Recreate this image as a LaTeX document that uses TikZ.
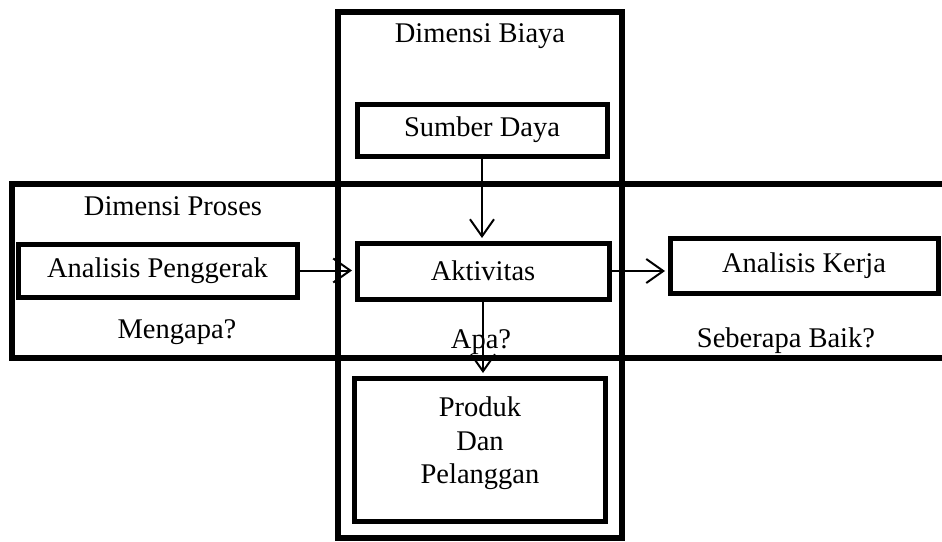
\documentclass[tikz,border=0pt]{standalone}
\usepackage{fontspec}
\setmainfont{Liberation Serif}
\usetikzlibrary{arrows.meta}
\newcommand\dfont{\fontsize{28.5}{33.5}\selectfont}
\begin{document}
\begin{tikzpicture}[x=1pt,y=-1pt,
  frame/.style={line width=6pt},
  boxnode/.style={draw, line width=5pt, inner sep=0pt, font=\dfont},
  conn/.style={line width=2pt, shorten >=2.5pt, -{Straight Barb[length=17pt,width=24pt,line width=2pt]}},
  lbl/.style={inner sep=0pt, anchor=base, font=\dfont}]
\useasboundingbox (0,0) rectangle (942,541);
% dimension frames
\draw[frame] (338,12) rectangle (622,538);
\draw[frame] (952,184) -- (12,184) -- (12,358) -- (952,358);
% boxes
\node[boxnode, minimum width=250, minimum height=52] (sumber) at (482,130) {Sumber Daya};
\node[boxnode, minimum width=252, minimum height=56] (akt) at (483,271) {Aktivitas};
\node[boxnode, minimum width=279, minimum height=53] (peng) at (157.5,270.5) {Analisis Penggerak};
\node[boxnode, minimum width=268, minimum height=55] (kerja) at (804,265.5) {Analisis Kerja};
\node[boxnode, minimum width=251, minimum height=143] (prod) at (479.5,449.5) {};
\node[inner sep=0pt, anchor=north, align=center, font=\dfont] (prodtext) at (480,397) {Produk\\Dan\\Pelanggan};
% labels
\node[lbl] (tbiaya) at (480,42) {Dimensi Biaya};
\node[lbl] (tproses) at (173,215) {Dimensi Proses};
\node[lbl] (tmengapa) at (177,338) {Mengapa?};
\node[lbl] (tapa) at (481,348) {Apa?};
\node[lbl] (tbaik) at (786,347) {Seberapa Baik?};
% connectors
\draw[conn] (sumber.south) -- (sumber.south |- akt.north);
\draw[conn] (akt.south) -- (akt.south |- prod.north);
\draw[conn] (peng.east) -- (peng.east -| akt.west);
\draw[conn] (akt.east) -- (akt.east -| kerja.west);
\end{tikzpicture}
\end{document}
